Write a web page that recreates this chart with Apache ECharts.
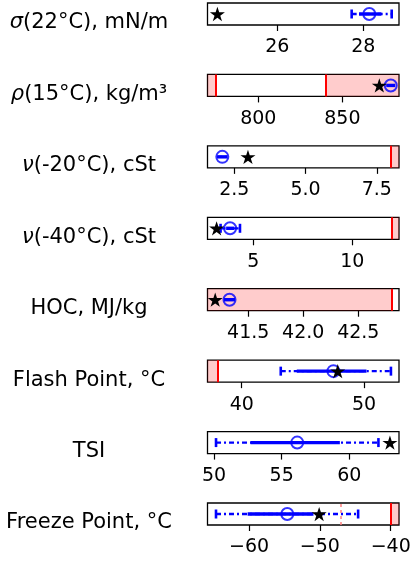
<!DOCTYPE html>
<html>
<head>
<meta charset="utf-8">
<script src="https://cdn.jsdelivr.net/npm/echarts@6/dist/echarts.min.js"></script>
<style>
  html, body { margin: 0; padding: 0; background: #fff; }
  #chart { width: 414px; height: 562px; }
</style>
</head>
<body>
<div id="chart"></div>
<script>
// Property panels, top to bottom
const propertyNames = [
  '{it|σ}(22°C), mN/m',
  '{it|ρ}(15°C), kg/m³',
  '{it|ν}(-20°C), cSt',
  '{it|ν}(-40°C), cSt',
  'HOC, MJ/kg',
  'Flash Point, °C',
  'TSI',
  'Freeze Point, °C'
];

// Axis extents and tick labels per panel
const axisMin = [24.38, 769.8, 1.56, 2.69, 41.13, 37.2, 49.52, -65.86];
const axisMax = [28.83, 883.7, 8.28, 12.36, 42.87, 52.86, 63.67, -38.83];
const tickValues = [[26, 28], [800, 850], [2.5, 5, 7.5], [5, 10], [41.5, 42, 42.5], [40, 50], [50, 55, 60], [-60, -50, -40]];
const tickLabels = [['26', '28'], ['800', '850'], ['2.5', '5.0', '7.5'], ['5', '10'], ['41.5', '42.0', '42.5'], ['40', '50'], ['50', '55', '60'], ['−60', '−50', '−40']];

// Blend estimate: mean, inner (solid) range and full (dash-dot) range
const meanValues = [28.14, 878.8, 2.08, 3.83, 41.33, 47.5, 56.15, -54.6];
const innerLow   = [27.9, 876.2, 1.9, 3.63, 41.28, 44.5, 52.7, -60.2];
const innerHigh  = [28.42, 881.4, 2.26, 4.03, 41.38, 50.2, 59.3, -50.9];
const outerLow   = [27.73, 876.2, 1.9, 3.35, 41.28, 43.19, 50.15, -64.66];
const outerHigh  = [28.66, 881.4, 2.26, 4.33, 41.38, 52.2, 62.15, -44.6];

// Reference fuel (stars)
const referenceValues = [24.61, 872, 2.98, 3.15, 41.2, 47.85, 63.0, -50.1];

// Specification limits (red lines) and out-of-spec shading
const specLimits = [[], [775, 840], [8], [12], [42.8], [38], [], [-40]];
const shadeBelow = [null, 775, null, null, 42.8, 38, null, null];
const shadeAbove = [null, 840, 8, 12, null, null, null, -40];
const softLimits = [[], [], [], [], [], [], [], [-47]];

const BLUE = '#0000ff';
const RED = '#ff0000';
const FONT = 'DejaVu Sans';
const GRID_LEFT = 207.5;
const GRID_RIGHT = 15;
const GRID_TOP = 3;
const GRID_STEP = 71.43;
const GRID_HEIGHT = 22;

function starPath() {
  const pts = [];
  for (let k = 0; k < 10; k++) {
    const r = k % 2 ? 0.382 : 1;
    const a = (-90 + k * 36) * Math.PI / 180;
    pts.push((r * Math.cos(a)).toFixed(4) + ' ' + (r * Math.sin(a)).toFixed(4));
  }
  return 'path://M' + pts.join(' L') + ' Z';
}
const STAR = starPath();

function renderRange(params, api) {
  const yv = api.value(4);
  const p0 = api.coord([api.value(0), yv]);
  const x1 = api.coord([api.value(1), yv])[0];
  const x2 = api.coord([api.value(2), yv])[0];
  const x3 = api.coord([api.value(3), yv])[0];
  const x0 = p0[0], y = p0[1];
  const children = [
    { type: 'line', shape: { x1: x0, y1: y, x2: x3, y2: y },
      style: { stroke: BLUE, lineWidth: 2.3, lineDash: [5, 3, 2, 3] } },
    { type: 'line', shape: { x1: x1, y1: y, x2: x2, y2: y },
      style: { stroke: BLUE, lineWidth: 3.4 } }
  ];
  const cap = (x) => ({ type: 'line', shape: { x1: x, y1: y - 4.5, x2: x, y2: y + 4.5 },
    style: { stroke: BLUE, lineWidth: 2.6 } });
  if (x1 - x0 > 0.5) children.push(cap(x0));
  if (x3 - x2 > 0.5) children.push(cap(x3));
  return { type: 'group', children };
}

const grids = [], xAxes = [], yAxes = [], series = [], texts = [];

propertyNames.forEach((name, i) => {
  const top = GRID_TOP + i * GRID_STEP;
  grids.push({
    left: GRID_LEFT, right: GRID_RIGHT, top: top, height: GRID_HEIGHT,
    show: true, borderColor: '#000', borderWidth: 1.3, backgroundColor: 'transparent'
  });
  const labelOf = {};
  tickValues[i].forEach((v, k) => { labelOf[v] = tickLabels[i][k]; });
  xAxes.push({
    gridIndex: i, type: 'value', min: axisMin[i], max: axisMax[i],
    axisLine: { show: false },
    splitLine: { show: false },
    axisTick: { show: true, length: 6, customValues: tickValues[i],
      lineStyle: { color: '#000', width: 1.2 } },
    axisLabel: { show: true, customValues: tickValues[i], margin: 13,
      fontSize: 19, color: '#000', fontFamily: FONT,
      formatter: (v) => labelOf[v] !== undefined ? labelOf[v] : '' }
  });
  yAxes.push({ gridIndex: i, type: 'value', min: 0, max: 1, show: false });

  texts.push({
    type: 'text', x: 89, y: top + GRID_HEIGHT / 2 + 9,
    style: {
      text: name, fill: '#000',
      fontSize: 21, fontFamily: FONT,
      align: 'center', verticalAlign: 'middle',
      rich: { it: { fontStyle: 'italic', fontSize: 21, fontFamily: FONT, fill: '#000' } }
    }
  });

  const areas = [];
  if (shadeBelow[i] !== null) areas.push([{ xAxis: axisMin[i] }, { xAxis: shadeBelow[i] }]);
  if (shadeAbove[i] !== null) areas.push([{ xAxis: shadeAbove[i] }, { xAxis: axisMax[i] }]);
  const lines = specLimits[i].map(v => ({ xAxis: v }));
  softLimits[i].forEach(v => lines.push({ xAxis: v,
    lineStyle: { color: '#ff8080', width: 1.5, type: [3, 3] } }));

  series.push({
    type: 'custom', xAxisIndex: i, yAxisIndex: i, z: 2, silent: true,
    renderItem: renderRange,
    encode: { x: [0, 1, 2, 3], y: 4 },
    data: [[outerLow[i], innerLow[i], innerHigh[i], outerHigh[i], 0.5]],
    markArea: { silent: true, itemStyle: { color: 'rgba(255,0,0,0.2)' }, data: areas },
    markLine: { silent: true, symbol: 'none', animation: false,
      label: { show: false },
      lineStyle: { color: RED, width: 2, type: 'solid' },
      data: lines }
  });
  series.push({
    type: 'scatter', xAxisIndex: i, yAxisIndex: i, z: 3, silent: true,
    symbol: 'circle', symbolSize: 12,
    itemStyle: { color: 'rgba(0,0,0,0)', borderColor: BLUE, borderWidth: 2 },
    data: [[meanValues[i], 0.5]]
  });
  series.push({
    type: 'scatter', xAxisIndex: i, yAxisIndex: i, z: 4, silent: true,
    symbol: STAR, symbolSize: 15, symbolKeepAspect: true,
    itemStyle: { color: '#000', opacity: 1 },
    data: [[referenceValues[i], 0.5]]
  });
});

const chart = echarts.init(document.getElementById('chart'), null, { renderer: 'canvas' });
chart.setOption({
  animation: false,
  backgroundColor: '#fff',
  textStyle: { fontFamily: FONT },
  grid: grids,
  xAxis: xAxes,
  yAxis: yAxes,
  series: series,
  graphic: texts
});
</script>
</body>
</html>
